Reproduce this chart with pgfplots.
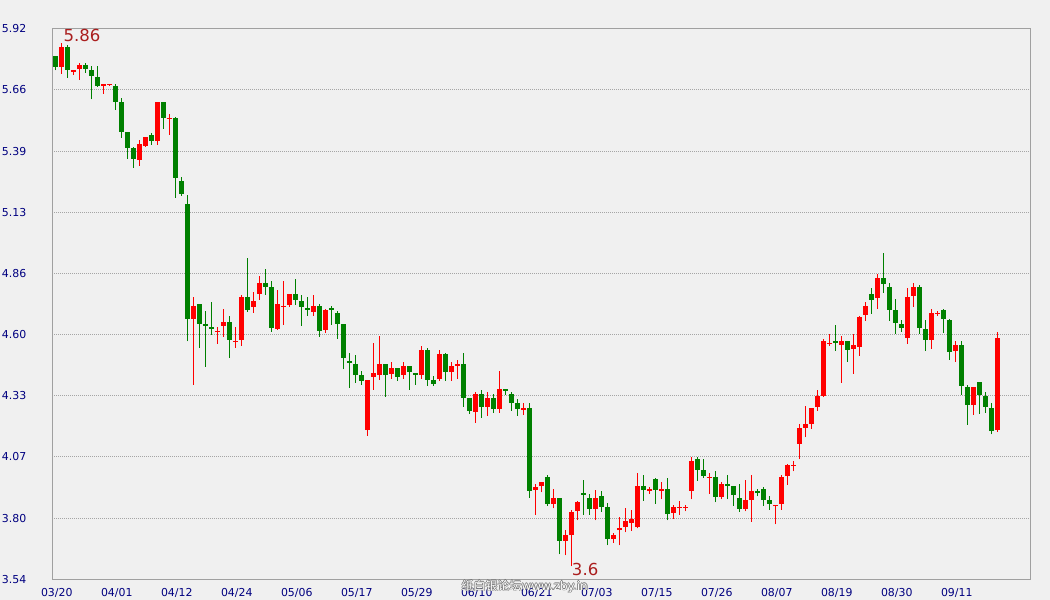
\documentclass[border=0pt]{standalone}
\usepackage{fontspec}
\setmainfont{DejaVu Sans}
\newfontfamily\cjk{Noto Sans CJK SC}
\usepackage{pgfplots}
\usepackage{pgfplotstable}
\pgfplotsset{compat=1.18}
\definecolor{bgc}{RGB}{240,240,240}
\definecolor{gridc}{RGB}{165,165,165}
\definecolor{borderc}{RGB}{160,160,160}
\definecolor{navyc}{RGB}{0,0,128}
\definecolor{upc}{RGB}{255,0,0}
\definecolor{dnc}{RGB}{0,128,0}
\definecolor{annc}{RGB}{170,30,30}

% rising candles (close > open): index open high low close
\pgfplotstableread{
i O H L C
1 5.756 5.857 5.725 5.841
3 5.734 5.741 5.721 5.741
4 5.746 5.772 5.700 5.763
8 5.674 5.681 5.639 5.681
9 5.676 5.681 5.674 5.681
14 5.353 5.438 5.328 5.421
15 5.414 5.452 5.410 5.452
17 5.436 5.603 5.418 5.603
19 5.531 5.551 5.462 5.534
23 4.666 4.759 4.380 4.720
27 4.610 4.630 4.558 4.612
28 4.635 4.708 4.588 4.651
30 4.566 4.630 4.540 4.571
31 4.575 4.768 4.549 4.759
33 4.718 4.781 4.692 4.742
34 4.774 4.850 4.748 4.820
37 4.622 4.790 4.618 4.729
38 4.718 4.829 4.640 4.721
39 4.726 4.772 4.718 4.772
43 4.696 4.768 4.679 4.721
45 4.618 4.708 4.605 4.703
52 4.186 4.401 4.160 4.401
53 4.415 4.561 4.359 4.431
54 4.424 4.591 4.402 4.470
56 4.428 4.478 4.406 4.452
58 4.424 4.478 4.406 4.461
61 4.424 4.548 4.406 4.530
64 4.406 4.530 4.398 4.513
66 4.437 4.478 4.398 4.461
67 4.463 4.487 4.406 4.470
70 4.264 4.349 4.216 4.340
72 4.285 4.349 4.246 4.323
74 4.277 4.440 4.259 4.362
78 4.272 4.301 4.251 4.280
80 3.926 3.952 3.818 3.941
81 3.943 3.959 3.917 3.959
83 3.866 3.929 3.848 3.890
85 3.706 3.752 3.645 3.730
86 3.731 3.840 3.597 3.831
87 3.835 3.879 3.796 3.873
90 3.844 3.926 3.796 3.890
93 3.714 3.739 3.697 3.730
94 3.753 3.808 3.688 3.760
95 3.766 3.847 3.744 3.791
96 3.783 3.838 3.749 3.799
97 3.766 3.998 3.760 3.942
99 3.922 3.938 3.909 3.929
101 3.922 3.959 3.887 3.929
103 3.827 3.860 3.801 3.851
104 3.848 3.877 3.818 3.853
105 3.848 3.861 3.835 3.853
106 3.922 4.069 3.887 4.050
109 3.978 3.998 3.909 3.982
111 3.896 3.959 3.887 3.951
115 3.844 3.968 3.835 3.881
116 3.883 3.990 3.788 3.920
120 3.855 3.860 3.779 3.860
121 3.866 3.990 3.840 3.981
122 3.987 4.037 3.948 4.033
123 4.030 4.050 4.008 4.034
124 4.125 4.210 4.060 4.193
125 4.194 4.288 4.155 4.210
126 4.212 4.279 4.190 4.279
127 4.285 4.357 4.268 4.331
128 4.333 4.578 4.328 4.569
129 4.558 4.600 4.549 4.562
131 4.553 4.591 4.389 4.569
133 4.536 4.600 4.428 4.552
134 4.545 4.677 4.506 4.673
135 4.683 4.738 4.657 4.721
137 4.757 4.859 4.709 4.842
142 4.584 4.798 4.558 4.760
143 4.765 4.820 4.718 4.803
146 4.575 4.708 4.536 4.690
147 4.687 4.700 4.679 4.693
150 4.527 4.569 4.480 4.552
153 4.294 4.370 4.251 4.370
157 4.186 4.610 4.177 4.584
}\upT

% falling candles (close < open): index open high low close
\pgfplotstableread{
i O H L C
0 5.802 5.802 5.741 5.756
2 5.841 5.851 5.708 5.743
5 5.763 5.773 5.730 5.747
6 5.741 5.759 5.616 5.717
7 5.711 5.759 5.669 5.674
10 5.672 5.681 5.570 5.604
11 5.603 5.619 5.449 5.475
12 5.473 5.473 5.358 5.405
13 5.405 5.410 5.319 5.358
16 5.460 5.469 5.418 5.436
18 5.603 5.603 5.488 5.535
20 5.534 5.538 5.189 5.276
21 5.261 5.278 5.198 5.206
22 5.162 5.201 4.570 4.666
24 4.729 4.729 4.540 4.644
25 4.643 4.699 4.458 4.635
26 4.630 4.738 4.597 4.622
29 4.651 4.677 4.497 4.575
32 4.759 4.928 4.696 4.705
35 4.820 4.881 4.770 4.804
36 4.803 4.829 4.610 4.627
40 4.772 4.837 4.726 4.748
41 4.742 4.768 4.635 4.718
42 4.712 4.759 4.679 4.705
44 4.721 4.729 4.588 4.614
46 4.712 4.721 4.640 4.705
47 4.690 4.699 4.579 4.644
48 4.643 4.643 4.449 4.497
49 4.483 4.517 4.367 4.475
50 4.470 4.509 4.389 4.423
51 4.422 4.440 4.380 4.398
55 4.470 4.470 4.328 4.424
57 4.452 4.452 4.398 4.415
59 4.461 4.461 4.359 4.437
60 4.431 4.431 4.380 4.424
62 4.530 4.539 4.376 4.402
63 4.401 4.418 4.376 4.385
65 4.513 4.517 4.398 4.437
68 4.470 4.517 4.285 4.324
69 4.323 4.323 4.255 4.268
71 4.340 4.357 4.238 4.285
73 4.323 4.340 4.259 4.277
75 4.362 4.362 4.337 4.354
76 4.340 4.349 4.268 4.302
77 4.301 4.318 4.246 4.277
79 4.280 4.301 3.892 3.922
82 3.981 3.991 3.857 3.866
84 3.890 3.890 3.649 3.706
88 3.913 3.968 3.818 3.905
89 3.890 3.909 3.818 3.844
91 3.899 3.920 3.831 3.853
92 3.851 3.868 3.688 3.714
98 3.942 3.991 3.879 3.926
100 3.972 3.977 3.866 3.926
102 3.929 3.977 3.796 3.822
107 4.059 4.069 3.966 4.013
108 4.011 4.059 3.978 3.987
110 3.981 4.007 3.874 3.896
112 3.951 3.990 3.887 3.943
113 3.942 3.942 3.857 3.904
114 3.890 3.951 3.831 3.844
117 3.920 3.929 3.900 3.913
118 3.929 3.938 3.857 3.883
119 3.881 3.899 3.840 3.866
130 4.569 4.638 4.527 4.562
132 4.569 4.569 4.480 4.532
136 4.773 4.798 4.687 4.748
138 4.842 4.950 4.778 4.817
139 4.803 4.820 4.657 4.705
140 4.703 4.751 4.601 4.649
141 4.643 4.660 4.610 4.627
144 4.803 4.811 4.601 4.627
145 4.621 4.660 4.527 4.575
148 4.703 4.708 4.605 4.666
149 4.660 4.664 4.488 4.523
151 4.552 4.569 4.337 4.376
152 4.370 4.379 4.207 4.294
154 4.392 4.392 4.255 4.337
155 4.333 4.350 4.259 4.285
156 4.281 4.302 4.168 4.181
}\dnT

\pgfplotsset{candle/.style={only marks, mark=*, mark size=0pt,
  mark options={draw=none, fill=none}, forget plot}}

\begin{document}
\begin{tikzpicture}
\path[use as bounding box, fill=bgc] (0,0) rectangle (787.5pt,450pt);
\begin{axis}[
  at={(39.225pt,15.525pt)}, anchor=south west,
  scale only axis, width=733.5pt, height=412.95pt,
  xmin=-0.5, xmax=162.5, ymin=3.54, ymax=5.92,
  xtick={0,10,...,150},
  xticklabels={03/20,04/01,04/12,04/24,05/06,05/17,05/29,06/10,06/21,07/03,07/15,07/26,08/07,08/19,08/30,09/11},
  ytick={3.54,3.80444,4.06889,4.33333,4.59778,4.86222,5.12667,5.39111,5.65556,5.92},
  yticklabels={3.54,3.80,4.07,4.33,4.60,4.86,5.13,5.39,5.66,5.92},
  major tick length=0pt,
  ymajorgrids,
  grid style={draw=gridc, line width=0.75pt, dash pattern=on 0.75pt off 0.75pt},
  axis line style={draw=borderc, line width=0.75pt},
  tick label style={font=\fontsize{8.2}{9}\selectfont, text=navyc},
  xticklabel style={anchor=north, inner sep=0pt, yshift=-6.5pt, xshift=1.1pt},
  yticklabel style={anchor=west, inner sep=0pt, xshift=-37.95pt},
  clip mode=individual,
]
% wicks
\addplot[candle,
  error bars/.cd, y dir=plus, y explicit, error mark=none,
  error bar style={draw=upc, line width=0.75pt}]
  table[x=i, y=L, y error plus expr=\thisrow{H}-\thisrow{L}] {\upT};
\addplot[candle,
  error bars/.cd, y dir=plus, y explicit, error mark=none,
  error bar style={draw=dnc, line width=0.75pt}]
  table[x=i, y=L, y error plus expr=\thisrow{H}-\thisrow{L}] {\dnT};
% bodies
\addplot[candle,
  error bars/.cd, y dir=plus, y explicit, error mark=none,
  error bar style={draw=upc, line width=3.75pt}]
  table[x=i, y=O, y error plus expr=\thisrow{C}-\thisrow{O}] {\upT};
\addplot[candle,
  error bars/.cd, y dir=plus, y explicit, error mark=none,
  error bar style={draw=dnc, line width=3.75pt}]
  table[x=i, y=C, y error plus expr=\thisrow{O}-\thisrow{C}] {\dnT};
% extremes
\node[anchor=south west, inner sep=0pt, text=annc, font=\fontsize{12.4}{14}\selectfont, yshift=0.75pt]
  at (axis cs:1.33,5.857) {5.86};
\node[anchor=north west, inner sep=0pt, text=annc, font=\fontsize{12.4}{14}\selectfont, yshift=2.5pt]
  at (axis cs:86.07,3.597) {3.6};
\end{axis}
% watermark
\foreach \dx/\dy in {-0.6pt/0pt,0.6pt/0pt,0pt/-0.6pt,0pt/0.6pt}{
  \node[anchor=west, inner sep=0pt, text=black!55, font=\fontsize{9}{10}\selectfont] at ([shift={(\dx,\dy)}]346pt,10.3pt) {{\cjk 纸白银论坛}www.zby.in};
}
\node[anchor=west, inner sep=0pt, text=white, font=\fontsize{9}{10}\selectfont] at (346pt,10.3pt) {{\cjk 纸白银论坛}www.zby.in};
\end{tikzpicture}
\end{document}
